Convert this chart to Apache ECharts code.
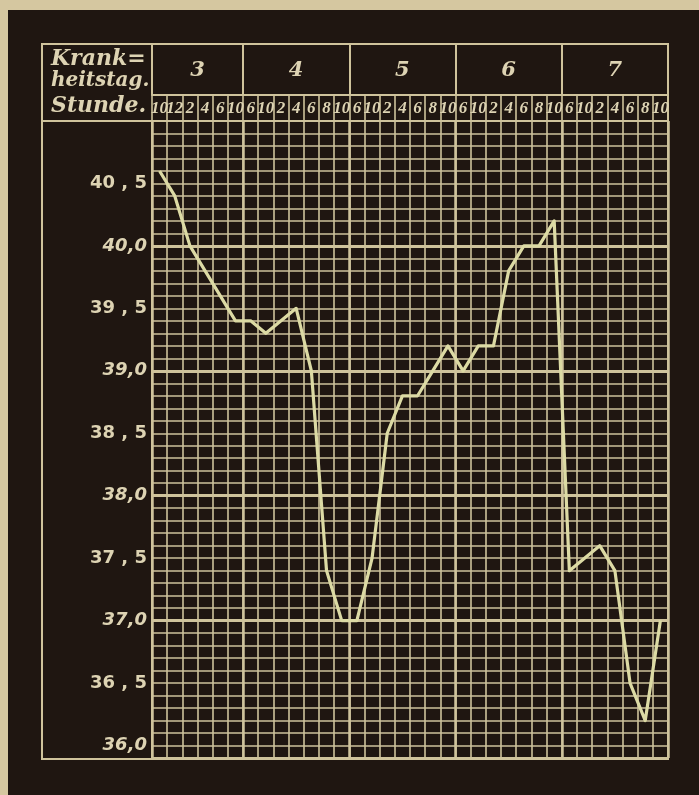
<!DOCTYPE html>
<html>
<head>
<meta charset="utf-8">
<script src="https://cdn.jsdelivr.net/npm/echarts@6/dist/echarts.min.js"></script>
<style>
  html, body { margin: 0; padding: 0; background: #1f1611; }
  #chart { width: 699px; height: 795px; }
</style>
</head>
<body>
<div id="chart"></div>
<script>
// Krankheitstag (day of illness) and the hour columns in each day
const days = ['3', '4', '5', '6', '7']
const hoursPerDay = [6, 7, 7, 7, 7]
const hourLabels = [
  '10', '12', '2', '4', '6', '10',
  '6', '10', '2', '4', '6', '8', '10',
  '6', '10', '2', '4', '6', '8', '10',
  '6', '10', '2', '4', '6', '8', '10',
  '6', '10', '2', '4', '6', '8', '10',
]
// body temperature, one reading per hour column
const temps = [
  40.6, 40.4, 40.0, 39.8, 39.6, 39.4,
  39.4, 39.3, 39.4, 39.5, 39.0, 37.4, 37.0,
  37.0, 37.5, 38.5, 38.8, 38.8, 39.0, 39.2,
  39.0, 39.2, 39.2, 39.8, 40.0, 40.0, 40.2,
  37.4, 37.5, 37.6, 37.4, 36.5, 36.2, 37.0,
]
const tempLabels = [36.0, 36.5, 37.0, 37.5, 38.0, 38.5, 39.0, 39.5, 40.0, 40.5]
const wholeDegrees = [37, 38, 39, 40]

const ink = '#cfc39c'
const textInk = '#ddd3b3'
const lineInk = '#dcdaa4'

// day boundaries / centres on the hour scale
const dayEdges = [0]
hoursPerDay.forEach((n, i) => dayEdges.push(dayEdges[i] + n))
const dayCenters = days.map((d, i) => (dayEdges[i] + dayEdges[i + 1]) / 2)
const nCols = hourLabels.length

const chart = echarts.init(document.getElementById('chart'))

chart.setOption({
  backgroundColor: '#1f1611',
  animation: false,
  grid: {
    left: 152, right: 31, top: 121, bottom: 37,
    show: true, borderColor: ink, borderWidth: 2, backgroundColor: 'transparent',
  },
  xAxis: [
    {
      // hour row
      type: 'category',
      position: 'top',
      data: hourLabels.map((h, i) => String(i)),
      boundaryGap: true,
      axisLine: { show: true, lineStyle: { color: ink, width: 2 } },
      axisTick: { show: true, interval: 0, length: 26, inside: false, lineStyle: { color: ink, width: 1.6 } },
      axisLabel: {
        interval: 0, margin: 4, color: textInk,
        fontFamily: 'Liberation Serif', fontStyle: 'italic', fontWeight: 'bold', fontSize: 17,
        formatter: (v, i) => hourLabels[i],
      },
      splitLine: { show: true, interval: 0, lineStyle: { color: ink, width: 1.6 } },
    },
    {
      // day row
      type: 'value',
      position: 'top',
      offset: 26,
      min: 0, max: nCols,
      axisLine: { show: true, lineStyle: { color: ink, width: 2 } },
      axisTick: { show: true, customValues: dayEdges, length: 51, lineStyle: { color: ink, width: 2 } },
      axisLabel: {
        customValues: dayCenters, margin: 14, color: textInk,
        fontFamily: 'DejaVu Serif', fontStyle: 'italic', fontWeight: 'bold', fontSize: 21,
        formatter: v => days[dayCenters.indexOf(v)] || '',
      },
      splitLine: { show: true, lineStyle: { color: ink, width: 2.5 } },
    },
  ],
  yAxis: [
    {
      type: 'value',
      min: 35.9, max: 41.0, interval: 0.1,
      axisLine: { show: true, lineStyle: { color: ink, width: 2 } },
      axisTick: { show: false },
      splitLine: { show: true, lineStyle: { color: ink, width: 1.6 } },
      axisLabel: {
        customValues: tempLabels,
        margin: 5,
        formatter: v => {
          const t = Math.round(v * 10)
          const whole = Math.floor(t / 10)
          return t % 10 === 5 ? '{h|' + whole + ' , 5}' : '{w|' + whole + ',0}'
        },
        rich: {
          h: { color: textInk, fontFamily: 'DejaVu Sans', fontWeight: 'bold', fontSize: 18 },
          w: { color: textInk, fontFamily: 'DejaVu Sans', fontStyle: 'italic', fontWeight: 'bold', fontSize: 18 },
        },
      },
    },
    {
      // heavier rules on whole degrees
      type: 'value',
      min: 35.9, max: 41.0,
      position: 'left',
      axisLine: { show: false },
      axisTick: { show: false, customValues: wholeDegrees },
      axisLabel: { show: false },
      splitLine: { show: true, lineStyle: { color: ink, width: 3 } },
    },
  ],
  series: [
    {
      type: 'line',
      xAxisIndex: 0,
      yAxisIndex: 0,
      data: temps,
      symbol: 'none',
      z: 5,
      lineStyle: { color: lineInk, width: 3.2, join: 'round' },
    },
  ],
  graphic: [
    { type: 'rect', shape: { x: 0, y: 0, width: 699, height: 10 }, style: { fill: '#d5c7a0' }, z: -1 },
    { type: 'rect', shape: { x: 0, y: 0, width: 8, height: 795 }, style: { fill: '#d5c7a0' }, z: -1 },
    { type: 'rect', shape: { x: 42, y: 44, width: 626, height: 715 }, style: { fill: 'none', stroke: ink, lineWidth: 2 } },
    { type: 'line', shape: { x1: 42, y1: 121, x2: 152, y2: 121 }, style: { stroke: ink, lineWidth: 2 } },
    { type: 'text', left: 51, top: 48, style: { text: 'Krank=', fill: textInk, font: 'italic bold 22px "DejaVu Serif"' } },
    { type: 'text', left: 51, top: 71, style: { text: 'heitstag.', fill: textInk, font: 'italic bold 20px "DejaVu Serif"' } },
    { type: 'text', left: 51, top: 95, style: { text: 'Stunde.', fill: textInk, font: 'italic bold 22px "DejaVu Serif"' } },
  ],
})
</script>
</body>
</html>
